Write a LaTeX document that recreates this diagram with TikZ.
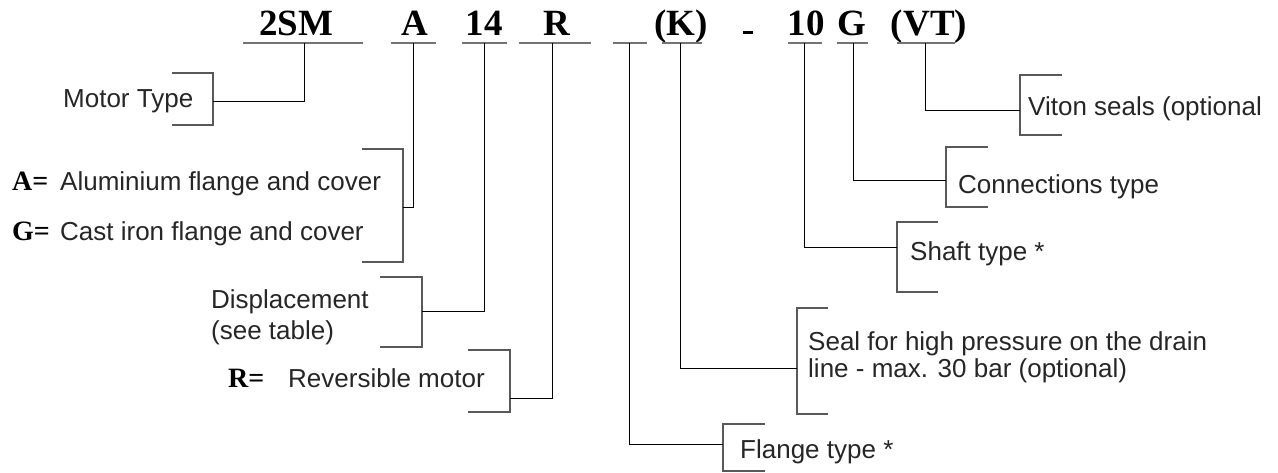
\documentclass[tikz,border=0pt]{standalone}
\usepackage{fontspec}
\setmainfont{Liberation Sans}
\newfontfamily\codeserif{Liberation Serif}
\newcommand\lblfnt{\fontsize{26}{32}\selectfont}
\newcommand\codefnt{\codeserif\bfseries\fontsize{37}{40}\selectfont}
\newcommand\keyfnt{\codeserif\bfseries\fontsize{28}{32}\selectfont}
\begin{document}
\begin{tikzpicture}[x=1pt,y=-1pt,
  lbl/.style={anchor=base west, inner sep=0pt, font=\lblfnt, text=black!85},
  keylbl/.style={anchor=base west, inner sep=0pt, font=\keyfnt, text=black},
  code/.style={anchor=base, inner sep=0pt, font=\codefnt, text=black},
  uline/.style={draw=black!55, line width=1.1pt},
  brk/.style={draw=black!65, line width=1.1pt},
  conn/.style={draw=black, line width=1pt}]
\useasboundingbox (0,0) rectangle (1278,472);

% ---- code letters
\node[code] (t2sm) at (296,35) {2SM};
\node[code] (tA)   at (415,35) {A};
\node[code] (t14)  at (484,35) {14};
\node[code] (tR)   at (557,35) {R};
\node[code] (tK)   at (681,35) {(K)};
\node[fill=black, inner sep=0pt, minimum width=10pt, minimum height=3pt] (tdash) at (748,32) {};
\node[code] (t10)  at (806,35) {10};
\node[code] (tG)   at (852,35) {G};
\node[code] (tVT)  at (929,35) {(VT)};

% ---- underlines
\draw[uline] (243,43) -- (363,43);
\draw[uline] (391,43) -- (436,43);
\draw[uline] (462,43) -- (507,43);
\draw[uline] (519,43) -- (591,43);
\draw[uline] (613,43) -- (647,43);
\draw[uline] (662,43) -- (702,43);
\draw[uline] (788,43) -- (822,43);
\draw[uline] (837,43) -- (868,43);
\draw[uline] (897,43) -- (955,43);

\coordinate (u2sm) at (304,43);
\coordinate (uA)   at (413,43);
\coordinate (u14)  at (484,43);
\coordinate (uR)   at (552,43);
\coordinate (uB)   at (629,43);
\coordinate (uK)   at (680,43);
\coordinate (u10)  at (804,43);
\coordinate (uG)   at (853,43);
\coordinate (uVT)  at (925,43);

% ---- brackets
\draw[brk] (172,73) -- (213,73) -- (213,125) -- (172,125);
\draw[brk] (362,149) -- (403,149) -- (403,262) -- (362,262);
\draw[brk] (380,277) -- (422,277) -- (422,347) -- (380,347);
\draw[brk] (468,350) -- (510,350) -- (510,412) -- (468,412);
\draw[brk] (765,424) -- (723,424) -- (723,471) -- (765,471);
\draw[brk] (828,308) -- (797,308) -- (797,414) -- (828,414);
\draw[brk] (938,222) -- (897,222) -- (897,292) -- (938,292);
\draw[brk] (988,147) -- (946,147) -- (946,207) -- (988,207);
\draw[brk] (1062,75) -- (1020,75) -- (1020,135) -- (1062,135);

\coordinate (mMotor) at (213,101);
\coordinate (mAG)    at (403,207);
\coordinate (mDisp)  at (422,311);
\coordinate (mRev)   at (510,398);
\coordinate (mFl)    at (723,444);
\coordinate (mSeal)  at (797,368);
\coordinate (mShaft) at (897,247);
\coordinate (mConn)  at (946,180);
\coordinate (mVit)   at (1020,110);

% ---- connectors
\draw[conn] (u2sm) |- (mMotor);
\draw[conn] (uA)   |- (mAG);
\draw[conn] (u14)  |- (mDisp);
\draw[conn] (uR)   |- (mRev);
\draw[conn] (uB)   |- (mFl);
\draw[conn] (uK)   |- (mSeal);
\draw[conn] (u10)  |- (mShaft);
\draw[conn] (uG)   |- (mConn);
\draw[conn] (uVT)  |- (mVit);

% ---- labels
\node[lbl] (motor) at (63,107) {Motor Type};
\node[keylbl] (kA) at (12,190) {A=};
\node[lbl] (alum) at (60,190) {Aluminium flange and cover};
\node[keylbl] (kG) at (12,240) {G=};
\node[lbl] (cast) at (60,240) {Cast iron flange and cover};
\node[lbl] (disp1) at (211,308) {Displacement};
\node[lbl] (disp2) at (211,339) {(see table)};
\node[keylbl] (kR) at (228,387) {R=};
\node[lbl] (rev) at (288,387) {Reversible motor};
\node[lbl] (flange) at (740,458) {Flange type *};
\node[lbl] (seal1) at (808,350) {Seal for high pressure on the drain};
\node[lbl] (seal2) at (808,377) {line - max. 30 bar (optional)};
\node[lbl] (shaft) at (910,260) {Shaft type *};
\node[lbl] (conns) at (958,193) {Connections type};
\node[lbl] (viton) at (1028,115) {Viton seals (optional};
\end{tikzpicture}
\end{document}
